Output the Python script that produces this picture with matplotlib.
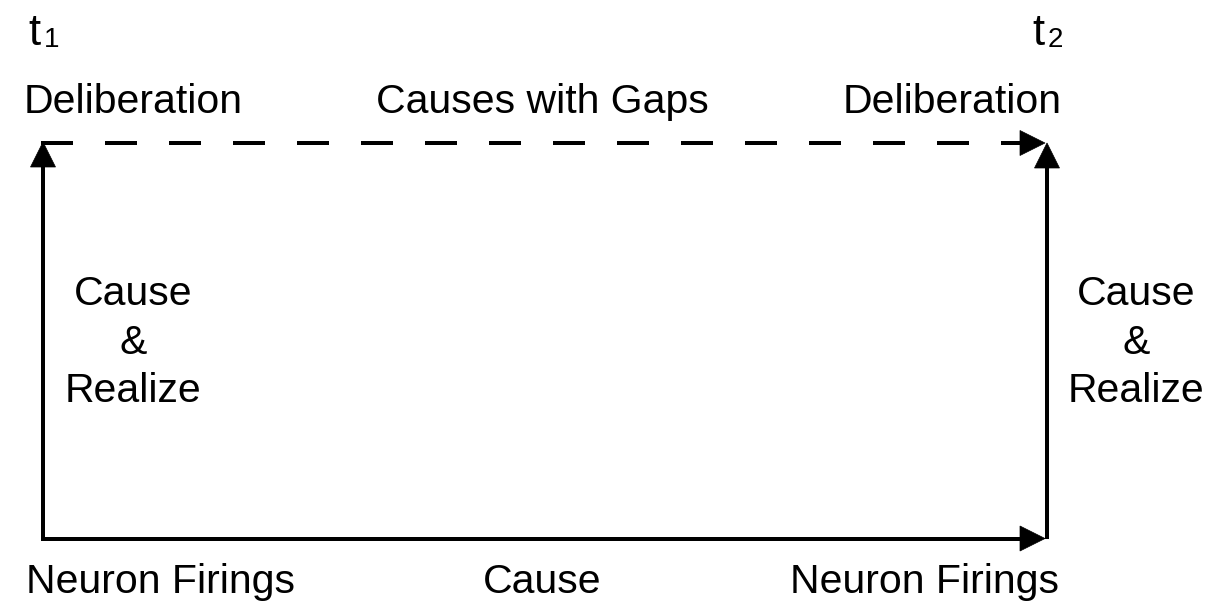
import matplotlib
matplotlib.use("Agg")
import matplotlib.pyplot as plt
from matplotlib.patches import Polygon

plt.rcParams['lines.scale_dashes'] = False
FONT = ['Liberation Sans', 'DejaVu Sans']

W, H, DPI = 1214, 611, 100

# Diagram geometry (pixel coordinates, y downward)
left_x, right_x = 43, 1047
top_y, bottom_y = 142, 538.5
arrow_tip_x = 1045

# Text content
time_labels = ["1", "2"]
top_labels = ["Deliberation", "Causes with Gaps", "Deliberation"]
top_label_x = [133, 542, 952]
bottom_labels = ["Neuron Firings", "Cause", "Neuron Firings"]
bottom_label_x = [160, 542, 925]
side_lines = ["Cause", "&", "Realize"]
side_line_y = [305, 354, 402]
side_label_x = [133, 1136]

LW = 4 * 72 / DPI
FS = 29.5
HEAD_L, HEAD_W = 25, 25

fig = plt.figure(figsize=(W / DPI, H / DPI), dpi=DPI)
ax = fig.add_axes([0, 0, 1, 1])
ax.set_xlim(0, W)
ax.set_ylim(H, 0)
ax.axis('off')


def head(tip, direction):
    tx, ty = tip
    dx, dy = direction
    bx, by = tx - dx * HEAD_L, ty - dy * HEAD_L
    px, py = -dy, dx
    pts = [(tx, ty), (bx + px * HEAD_W / 2, by + py * HEAD_W / 2),
           (bx - px * HEAD_W / 2, by - py * HEAD_W / 2)]
    ax.add_patch(Polygon(pts, closed=True, facecolor='black', edgecolor='black',
                         linewidth=0.5, zorder=3))


# Left vertical + bottom horizontal (square corner)
ax.plot([left_x, left_x, arrow_tip_x - HEAD_L + 2],
        [top_y + HEAD_L - 2, bottom_y, bottom_y],
        color='black', lw=LW, solid_joinstyle='miter', solid_capstyle='butt')
ax.plot([left_x - 2.5, left_x], [bottom_y, bottom_y], color='black', lw=LW,
        solid_capstyle='butt')
ax.plot([left_x, left_x], [bottom_y, bottom_y + 2.5], color='black', lw=LW,
        solid_capstyle='butt')
head((left_x, top_y), (0, -1))
head((arrow_tip_x, bottom_y), (1, 0))

# Right vertical
ax.plot([right_x, right_x], [bottom_y, top_y + HEAD_L - 2], color='black', lw=LW,
        solid_capstyle='butt')
head((right_x, top_y + 1), (0, -1))

# Top dashed line
dash = 32 * 72 / DPI
ax.plot([left_x - 2, arrow_tip_x - HEAD_L + 2], [top_y + 1, top_y + 1],
        color='black', lw=LW, dash_capstyle='butt',
        linestyle=(0, (dash, dash)))
head((arrow_tip_x, top_y + 1), (1, 0))

# Time labels
for tx, sub in zip([28, 1032], time_labels):
    ax.text(tx, 45, "t", fontsize=FS + 2, family=FONT, ha='left', va='baseline')
    ax.text(tx + 16, 47, sub, fontsize=20, family=FONT, ha='left', va='baseline')

# Top labels
for x, s in zip(top_label_x, top_labels):
    ax.text(x, 113, s, fontsize=FS, family=FONT, ha='center', va='baseline')

# Bottom labels
for x, s in zip(bottom_label_x, bottom_labels):
    ax.text(x, 593, s, fontsize=FS, family=FONT, ha='center', va='baseline')

# Side labels
for x in side_label_x:
    for y, s in zip(side_line_y, side_lines):
        ax.text(x, y, s, fontsize=FS, family=FONT, ha='center', va='baseline')

fig.savefig("out.png", dpi=DPI, facecolor='white')
